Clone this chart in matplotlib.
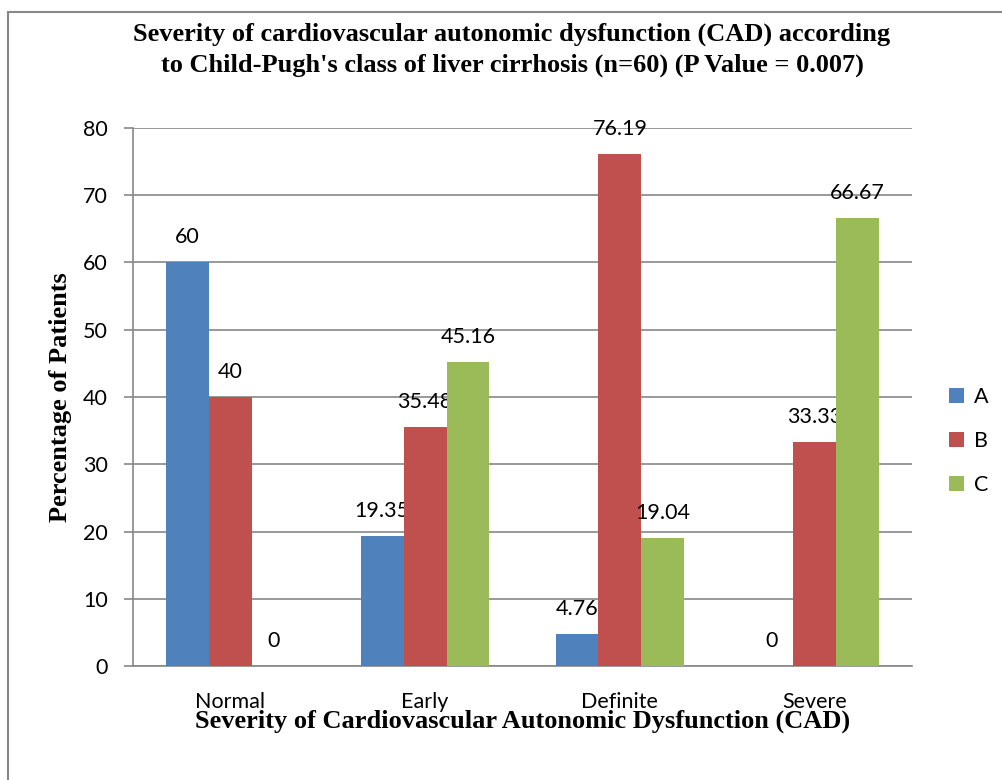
import matplotlib
matplotlib.use("Agg")
import matplotlib.pyplot as plt
from matplotlib.patches import Rectangle
import numpy as np

categories = ["Normal", "Early", "Definite", "Severe"]
series_names = ["A", "B", "C"]
values_a = [60, 19.35, 4.76, 0]
values_b = [40, 35.48, 76.19, 33.33]
values_c = [0, 45.16, 19.04, 66.67]
labels_a = ["60", "19.35", "4.76", "0"]
labels_b = ["40", "35.48", "76.19", "33.33"]
labels_c = ["0", "45.16", "19.04", "66.67"]
colors = ["#4F81BD", "#C0504D", "#9BBB59"]

sans = ["Lato", "DejaVu Sans"]
serif = ["Liberation Serif", "DejaVu Serif"]

fig = plt.figure(figsize=(10.02, 7.8), dpi=100)
ax = fig.add_axes([133 / 1002, 1 - 666 / 780, (912 - 133) / 1002, (666 - 128) / 780])

x = np.arange(len(categories))
w = 0.22
series = [values_a, values_b, values_c]
labels = [labels_a, labels_b, labels_c]
for i, (vals, labs) in enumerate(zip(series, labels)):
    pos = x + (i - 1) * w
    ax.bar(pos, vals, width=w, color=colors[i], label=series_names[i], zorder=3)
    for p, v, t in zip(pos, vals, labs):
        ax.annotate(t, (p, v), xytext=(0, 18), textcoords="offset points",
                    ha="center", va="center", fontsize=15.5, family=sans)

ax.set_xlim(-0.5, 3.5)
ax.set_ylim(0, 80)
ax.set_yticks(range(0, 81, 10))
ax.set_xticks(x)
ax.set_xticklabels(categories, family=sans, fontsize=15.5)
for t in ax.get_yticklabels():
    t.set_family(sans)
    t.set_fontsize(15.5)
ax.tick_params(axis="x", length=0, pad=19)
ax.tick_params(axis="y", length=6.5, color="#888888", width=1.2, pad=11.5)
ax.grid(axis="y", color="#888888", linewidth=1.2, zorder=0)
for s in ["top", "right"]:
    ax.spines[s].set_visible(False)
for s in ["left", "bottom"]:
    ax.spines[s].set_color("#888888")
    ax.spines[s].set_linewidth(1.2)

ax.set_ylabel("Percentage of Patients", family=serif, fontweight="bold", fontsize=19, labelpad=8)
ax.set_xlabel("Severity of Cardiovascular Autonomic Dysfunction (CAD)", family=serif,
              fontweight="bold", fontsize=19, labelpad=-2)

fig.text(512 / 1002, 1 - 50 / 780,
         "Severity of cardiovascular autonomic dysfunction (CAD) according\n"
         "to Child-Pugh's class of liver cirrhosis (n=60) (P Value = 0.007)",
         ha="center", va="center", family=serif, fontweight="bold", fontsize=19,
         linespacing=1.45)

ax.legend(loc="center left", bbox_to_anchor=(1.022, 0.418), frameon=False,
          prop={"family": sans, "size": 15.5}, handlelength=0.7, handleheight=0.7,
          labelspacing=1.12, handletextpad=0.5)

fig.add_artist(Rectangle((8 / 1002, -0.1), 1.2, 1.1 - 12 / 780, transform=fig.transFigure,
                         fill=False, edgecolor="#888888", linewidth=1.5))

fig.savefig("out.png", dpi=100)
